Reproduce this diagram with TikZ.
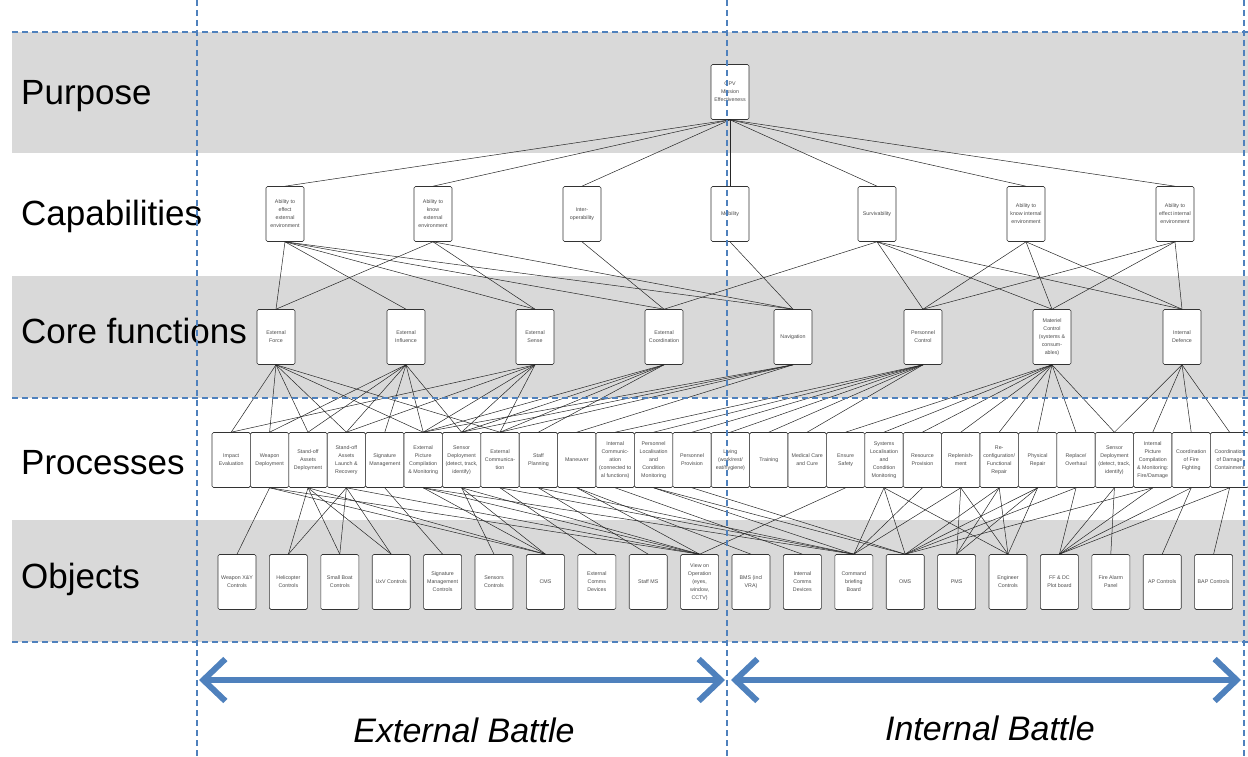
\documentclass[tikz,border=0pt]{standalone}
\usepackage{fontspec}
\setmainfont{Liberation Sans}
\usetikzlibrary{arrows.meta}
\definecolor{bandgray}{RGB}{217,217,217}
\definecolor{guideblue}{RGB}{79,129,189}
\begin{document}
\begin{tikzpicture}[x=1pt,y=-1pt,
  box/.style={draw=black!80, fill=white, rounded corners=1.5pt, line width=0.6pt,
    minimum width=38pt, minimum height=55pt, inner sep=0pt, align=center,
    font=\fontsize{5.3}{8}\selectfont, text=black!70},
  pbox/.style={box, minimum width=38.4pt},
  edge/.style={draw=black!85, line width=0.5pt},
  guide/.style={draw=guideblue, dash pattern=on 6pt off 4pt, line width=1.1pt},
  rowlabel/.style={anchor=west, inner sep=0pt, font=\fontsize{35}{40}\selectfont},
  battle/.style={inner sep=0pt, font=\itshape\fontsize{34}{40}\selectfont},
  battlearrow/.style={draw=guideblue, line width=6pt,
    arrows={Straight Barb[length=22pt,width=42pt]-Straight Barb[length=22pt,width=42pt]}}
]
\useasboundingbox (0,0) rectangle (1248,757);
% bands
\fill[bandgray] (12,32) rectangle (1248,153);
\fill[bandgray] (12,276) rectangle (1248,398);
\fill[bandgray] (12,520) rectangle (1248,642);
% row labels
\node[rowlabel] (lpur) at (21,96) {Purpose};
\node[rowlabel] (lcap) at (21,216) {Capabilities};
\node[rowlabel] (lcor) at (21,331) {Core functions};
\node[rowlabel] (lpro) at (21,463) {Processes};
\node[rowlabel] (lobj) at (21,579) {Objects};
% purpose
\node[box] (g) at (730,92) {GPV\\Mission\\Effectiveness};
% capabilities
\node[box] (c1) at (285,214) {Ability to\\effect\\external\\environment};
\node[box] (c2) at (433,214) {Ability to\\know\\external\\environment};
\node[box] (c3) at (582,214) {Inter-\\operability};
\node[box] (c4) at (730,214) {Mobility};
\node[box] (c5) at (877,214) {Survivability};
\node[box] (c6) at (1026,214) {Ability to\\know internal\\environment};
\node[box] (c7) at (1175,214) {Ability to\\effect internal\\environment};
% core functions
\node[box] (f1) at (276,337) {External\\Force};
\node[box] (f2) at (406,337) {External\\Influence};
\node[box] (f3) at (535,337) {External\\Sense};
\node[box] (f4) at (664,337) {External\\Coordination};
\node[box] (f5) at (793,337) {Navigation};
\node[box] (f6) at (923,337) {Personnel\\Control};
\node[box] (f7) at (1052,337) {Materiel\\Control\\(systems \&\\consum-\\ables)};
\node[box] (f8) at (1182,337) {Internal\\Defence};
% processes
\node[pbox] (p1) at (231.2,460) {Impact\\Evaluation};
\node[pbox] (p2) at (269.6,460) {Weapon\\Deployment};
\node[pbox] (p3) at (308.0,460) {Stand-off\\Assets\\Deployment};
\node[pbox] (p4) at (346.4,460) {Stand-off\\Assets\\Launch \&\\Recovery};
\node[pbox] (p5) at (384.8,460) {Signature\\Management};
\node[pbox] (p6) at (423.2,460) {External\\Picture\\Compilation\\\& Monitoring};
\node[pbox] (p7) at (461.6,460) {Sensor\\Deployment\\(detect, track,\\identify)};
\node[pbox] (p8) at (500.0,460) {External\\Communica-\\tion};
\node[pbox] (p9) at (538.4,460) {Staff\\Planning};
\node[pbox] (p10) at (576.8,460) {Maneuver};
\node[pbox] (p11) at (615.2,460) {Internal\\Communic-\\ation\\(connected to\\al functions)};
\node[pbox] (p12) at (653.6,460) {Personnel\\Localisation\\and\\Condition\\Monitoring};
\node[pbox] (p13) at (692.0,460) {Personnel\\Provision};
\node[pbox] (p14) at (730.4,460) {Living\\(work/rest/\\eat/hygiene)};
\node[pbox] (p15) at (768.8,460) {Training};
\node[pbox] (p16) at (807.2,460) {Medical Care\\and Cure};
\node[pbox] (p17) at (845.6,460) {Ensure\\Safety};
\node[pbox] (p18) at (884.0,460) {Systems\\Localisation\\and\\Condition\\Monitoring};
\node[pbox] (p19) at (922.4,460) {Resource\\Provision};
\node[pbox] (p20) at (960.8,460) {Replenish-\\ment};
\node[pbox] (p21) at (999.2,460) {Re-\\configuration/\\Functional\\Repair};
\node[pbox] (p22) at (1037.6,460) {Physical\\Repair};
\node[pbox] (p23) at (1076.0,460) {Replace/\\Overhaul};
\node[pbox] (p24) at (1114.4,460) {Sensor\\Deployment\\(detect, track,\\identify)};
\node[pbox] (p25) at (1152.8,460) {Internal\\Picture\\Compilation\\\& Monitoring:\\Fire/Damage};
\node[pbox] (p26) at (1191.2,460) {Coordination\\of Fire\\Fighting};
\node[pbox] (p27) at (1229.6,460) {Coordination\\of Damage\\Containment};
% objects
\node[box] (o1) at (237.0,582) {Weapon X\&Y\\Controls};
\node[box] (o2) at (288.4,582) {Helicopter\\Controls};
\node[box] (o3) at (339.8,582) {Small Boat\\Controls};
\node[box] (o4) at (391.2,582) {UxV Controls};
\node[box] (o5) at (442.6,582) {Signature\\Management\\Controls};
\node[box] (o6) at (494.0,582) {Sensors\\Controls};
\node[box] (o7) at (545.4,582) {CMS};
\node[box] (o8) at (596.8,582) {External\\Comms\\Devices};
\node[box] (o9) at (648.2,582) {Staff MS};
\node[box] (o10) at (699.6,582) {View on\\Operation\\(eyes,\\window,\\CCTV)};
\node[box] (o11) at (751.0,582) {BMS (incl\\VRA)};
\node[box] (o12) at (802.4,582) {Internal\\Comms\\Devices};
\node[box] (o13) at (853.8,582) {Command\\briefing\\Board};
\node[box] (o14) at (905.2,582) {OMS};
\node[box] (o15) at (956.6,582) {PMS};
\node[box] (o16) at (1008.0,582) {Engineer\\Controls};
\node[box] (o17) at (1059.4,582) {FF \& DC\\Plot board};
\node[box] (o18) at (1110.8,582) {Fire Alarm\\Panel};
\node[box] (o19) at (1162.2,582) {AP Controls};
\node[box] (o20) at (1213.6,582) {BAP Controls};
% purpose -> capabilities
\foreach \c in {c1,c2,c3,c4,c5,c6,c7} \draw[edge] (g.south) -- (\c.north);
% capabilities -> core
\foreach \a/\b in {c1/f1,c1/f2,c1/f3,c1/f4,c1/f5,c2/f3,c2/f5,c2/f1,c3/f4,c4/f5,
  c5/f4,c5/f6,c5/f7,c5/f8,c6/f6,c6/f7,c6/f8,c7/f6,c7/f7,c7/f8}
  \draw[edge] (\a.south) -- (\b.north);
% core -> processes
\foreach \a/\b in {f1/p1,f1/p2,f1/p3,f1/p4,f1/p6,f1/p8,
  f2/p2,f2/p3,f2/p4,f2/p5,f2/p6,f2/p7,
  f3/p1,f3/p6,f3/p7,f3/p8,f3/p4,
  f4/p6,f4/p7,f4/p8,f4/p9,
  f5/p6,f5/p7,f5/p8,f5/p10,
  f6/p11,f6/p12,f6/p13,f6/p14,f6/p15,f6/p16,
  f7/p17,f7/p18,f7/p19,f7/p20,f7/p21,f7/p22,f7/p23,f7/p24,
  f8/p24,f8/p25,f8/p26,f8/p27}
  \draw[edge] (\a.south) -- (\b.north);
% processes -> objects
\foreach \a/\b in {p2/o1,p2/o7,p2/o10,
  p3/o2,p3/o3,p3/o4,p3/o7,
  p4/o2,p4/o3,p4/o4,p4/o10,
  p5/o5,
  p6/o7,p6/o10,p6/o13,
  p7/o6,p7/o7,p7/o10,
  p8/o8,p8/o13,
  p9/o9,p9/o13,
  p10/o10,p10/o11,
  p11/o12,p12/o13,p12/o14,p13/o14,
  p17/o10,
  p18/o13,p18/o14,p18/o16,
  p19/o13,
  p20/o15,p20/o13,p20/o16,
  p21/o14,p21/o15,p21/o16,
  p22/o14,p22/o15,p22/o16,
  p23/o14,p23/o17,
  p24/o17,p24/o18,
  p25/o14,p25/o17,
  p26/o17,p26/o19,
  p27/o20,p27/o17}
  \draw[edge] (\a.south) -- (\b.north);
% dashed guides
\draw[guide] (12,32) -- (1248,32);
\draw[guide] (12,398) -- (1248,398);
\draw[guide] (12,642) -- (1248,642);
\draw[guide] (197,0) -- (197,757);
\draw[guide] (727,0) -- (727,757);
\draw[guide] (1244,0) -- (1244,757);
% battle arrows
\coordinate (ea) at (199,680);
\coordinate (eb) at (725,680);
\coordinate (ia) at (731,680);
\coordinate (ib) at (1241,680);
\draw[battlearrow] (ea) -- (eb);
\draw[battlearrow] (ia) -- (ib);
\node[battle] (ext) at (464,730) {External Battle};
\node[battle] (int) at (990,728) {Internal Battle};
\end{tikzpicture}
\end{document}
